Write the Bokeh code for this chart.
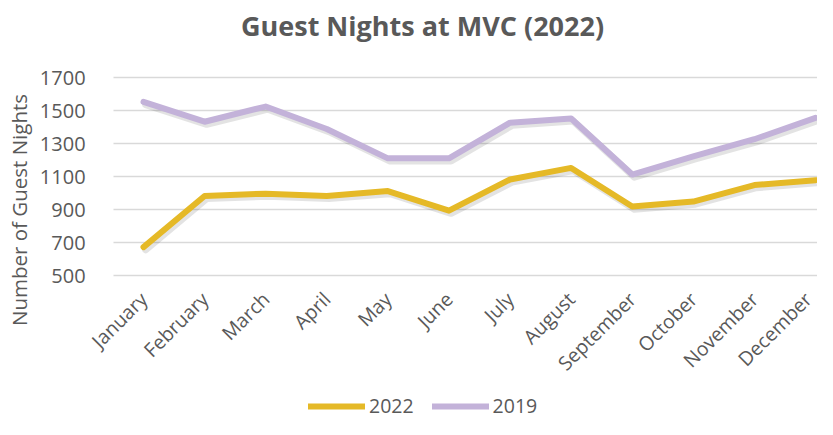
from bokeh.plotting import figure
from bokeh.models import (FixedTicker, Legend, LegendItem, Range1d, Label,
                          ColumnDataSource)
from bokeh.transform import dodge
from bokeh.embed import file_html
from bokeh.resources import INLINE

months = ["January", "February", "March", "April", "May", "June", "July",
          "August", "September", "October", "November", "December"]
nights_2022 = [672, 982, 996, 982, 1012, 893, 1082, 1152, 918, 948, 1048, 1078]
nights_2019 = [1552, 1432, 1524, 1388, 1210, 1210, 1426, 1452, 1112, 1222, 1326, 1455]
y_ticks = [500, 700, 900, 1100, 1300, 1500, 1700]

TEXT = "#595959"
FONT = "Open Sans"

xs = list(range(len(months)))
src = ColumnDataSource(dict(x=xs, y22=nights_2022, y19=nights_2019))

# The frame fills the whole canvas; axes are pinned at the plot-area edges
# (x = -0.49, y = 500) so the labels, title and legend all sit in the frame.
W, H = 817, 419
p = figure(width=W, height=H, output_backend="svg", toolbar_location=None,
           x_range=Range1d(-2.341, 11.033), y_range=Range1d(-372.7, 2166.7),
           min_border_left=0, min_border_right=0, min_border_top=0,
           min_border_bottom=0)
p.outline_line_color = None
p.background_fill_color = "white"
p.border_fill_color = "white"
p.xgrid.grid_line_color = None
p.ygrid.grid_line_color = None

p.add_layout(Label(x=422, y=394, x_units="screen", y_units="screen",
                   text="Guest Nights at MVC (2022)", text_align="center",
                   text_baseline="alphabetic", text_font=FONT,
                   text_font_size="27px", text_font_style="bold",
                   text_color=TEXT))

# x axis
p.xaxis.ticker = FixedTicker(ticks=xs)
p.xaxis.fixed_location = y_ticks[0]
p.xaxis.major_label_overrides = {i: m for i, m in enumerate(months)}
p.xaxis.major_label_orientation = 0.785398
p.xaxis.major_label_standoff = 14
p.xaxis.major_tick_line_color = None

# y axis; its inward ticks form the horizontal grid over the plot area
p.yaxis.ticker = FixedTicker(ticks=y_ticks)
p.yaxis.fixed_location = -0.49
p.yaxis.major_label_standoff = 28
p.yaxis.major_tick_in = 704
p.yaxis.major_tick_out = 0
p.yaxis.major_tick_line_color = "#D9D9D9"
p.yaxis.major_tick_line_width = 1.5
p.yaxis.level = "underlay"
p.yaxis.axis_label = "Number of Guest Nights"
p.yaxis.axis_label_standoff = 4
p.yaxis.axis_label_text_font_style = "normal"

for ax in (p.xaxis, p.yaxis):
    ax.axis_line_color = None
    ax.minor_tick_line_color = None
    ax.major_label_text_font = FONT
    ax.major_label_text_font_size = "19.5px"
    ax.major_label_text_color = TEXT
    ax.axis_label_text_font = FONT
    ax.axis_label_text_font_size = "20.5px"
    ax.axis_label_text_color = TEXT
p.yaxis.major_label_text_font_size = "20px"

for col in ("y22", "y19"):
    p.line(x=dodge("x", 0.035), y=dodge(col, -16), source=src,
           line_color="black", line_alpha=0.11, line_width=7,
           line_cap="round", line_join="round")

r22 = p.line("x", "y22", source=src, line_color="#E5B927", line_width=6,
             line_cap="round", line_join="round")
r19 = p.line("x", "y19", source=src, line_color="#C3B2D9", line_width=6,
             line_cap="round", line_join="round")

legend = Legend(items=[LegendItem(label="2022", renderers=[r22]),
                       LegendItem(label="2019", renderers=[r19])],
                orientation="horizontal", location=(308, 0),
                glyph_width=57, glyph_height=20, label_standoff=4, spacing=18,
                padding=0, margin=0, border_line_color=None,
                background_fill_alpha=0,
                label_text_font=FONT, label_text_font_size="19.5px",
                label_text_color=TEXT)
p.add_layout(legend, "center")

open("out.html", "w").write(file_html(p, INLINE))
